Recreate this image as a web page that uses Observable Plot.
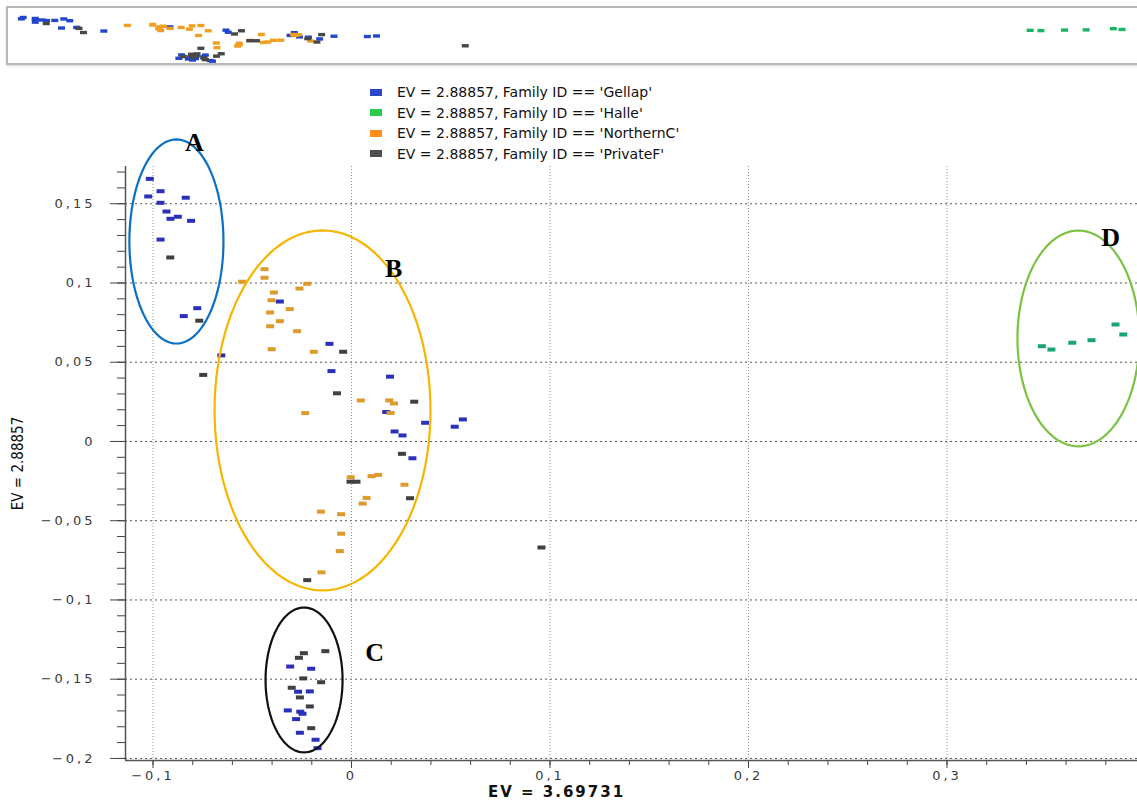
<!DOCTYPE html>
<html>
<head>
<meta charset="utf-8">
<script src="https://cdn.jsdelivr.net/npm/d3@7"></script>
<script src="https://cdn.jsdelivr.net/npm/@observablehq/plot@0.6"></script>
<style>
  html, body { margin: 0; padding: 0; background: #fff; }
  body { width: 1137px; height: 803px; overflow: hidden; position: relative; font-family: "DejaVu Sans", sans-serif; }
  #frame { position: absolute; left: 6px; top: 6px; width: 1150px; height: 55px; border: 2px solid #b8b8b8; border-right: none; box-shadow: 0 1px 2px rgba(0,0,0,0.15); }
  #strip { position: absolute; left: 0; top: 0; }
  #legend { position: absolute; left: 370px; top: 82px; font-size: 14px; letter-spacing: 0px; color: #111; }
  #legend .row { height: 20.6px; line-height: 20.6px; white-space: nowrap; }
  #legend .sw { display: inline-block; width: 12px; height: 7px; margin-right: 15px; vertical-align: middle; position: relative; top: -1px; }
  #main { position: absolute; left: 0; top: 120px; }
  #main g[aria-label="y-axis tick label"], #main g[aria-label="x-axis tick label"] { letter-spacing: 3px; }
</style>
</head>
<body>
<div id="frame"></div>
<div id="strip"></div>
<div id="legend"></div>
<div id="main"></div>
<script>
// ---------- data ----------
const families = ["Gellap", "Halle", "NorthernC", "PrivateF"];
const legendLabels = families.map(f => `EV = 2.88857, Family ID == '${f}'`);

const gellap = [
  [-0.1016, 0.1657], [-0.1024, 0.1546], [-0.0962, 0.1579], [-0.0835, 0.1538],
  [-0.0962, 0.1506], [-0.0932, 0.1451], [-0.0912, 0.1405], [-0.0875, 0.1418],
  [-0.0808, 0.1392], [-0.0962, 0.1274], [-0.0777, 0.0841], [-0.0845, 0.0791],
  [-0.0656, 0.0543], [-0.0361, 0.0883], [-0.0111, 0.0616], [-0.0101, 0.0444],
  [0.0194, 0.0409], [0.0175, 0.0186], [0.0371, 0.0118], [0.0217, 0.0063],
  [0.0257, 0.0038], [0.0561, 0.0139], [0.0520, 0.0093], [0.0307, -0.0106],
  [-0.0309, -0.1420], [-0.0203, -0.1434], [-0.0269, -0.1579], [-0.0210, -0.1577],
  [-0.0321, -0.1697], [-0.0258, -0.1705], [-0.0247, -0.1718], [-0.0279, -0.1752],
  [-0.0260, -0.1838], [-0.0181, -0.1882], [-0.0171, -0.1935]
];
const halle = [
  [0.3478, 0.0601], [0.3526, 0.0580], [0.3631, 0.0623],
  [0.3728, 0.0639], [0.3849, 0.0738], [0.3888, 0.0675]
];
const northernC = [
  [-0.0551, 0.1008], [-0.0438, 0.1087], [-0.0438, 0.1033], [-0.0223, 0.0995],
  [-0.0262, 0.0965], [-0.0391, 0.0940], [-0.0403, 0.0891], [-0.0311, 0.0835],
  [-0.0410, 0.0814], [-0.0361, 0.0759], [-0.0410, 0.0727], [-0.0274, 0.0696],
  [-0.0402, 0.0582], [-0.0190, 0.0566], [-0.0233, 0.0179], [0.0047, 0.0259],
  [0.0190, 0.0259], [0.0214, 0.0240], [0.0197, 0.0180], [-0.0004, -0.0226],
  [0.0101, -0.0219], [0.0134, -0.0211], [0.0267, -0.0273], [0.0076, -0.0356],
  [0.0056, -0.0392], [-0.0154, -0.0443], [-0.0052, -0.0459], [-0.0052, -0.0582],
  [-0.0059, -0.0692], [-0.0151, -0.0826]
];
const privateF = [
  [-0.0913, 0.1161], [-0.0767, 0.0762], [-0.0747, 0.0420], [-0.0042, 0.0566],
  [-0.0073, 0.0304], [0.0316, 0.0251], [0.0254, -0.0078], [-0.0005, -0.0254],
  [0.0025, -0.0254], [0.0295, -0.0358], [-0.0223, -0.0875], [0.0957, -0.0669],
  [-0.0240, -0.1336], [-0.0265, -0.1365], [-0.0132, -0.1323], [-0.0243, -0.1495],
  [-0.0153, -0.1519], [-0.0301, -0.1554], [-0.0260, -0.1615], [-0.0210, -0.1672],
  [-0.0203, -0.1809]
];

const xMajor = [-0.1, 0, 0.1, 0.2, 0.3];
const yMajor = [-0.2, -0.15, -0.1, -0.05, 0, 0.05, 0.1, 0.15];
const xTitle = "EV = 3.69731";
const yTitle = "EV = 2.88857";

// cluster annotations (ellipse centre / radii in data units, label position)
const annotations = [
  { label: "A", cx: -0.0882, cy: 0.1262, rx: 0.0237, ry: 0.0644, lx: -0.0791, ly: 0.1886 },
  { label: "B", cx: -0.0146, cy: 0.0196, rx: 0.0544, ry: 0.1136, lx: 0.0212, ly: 0.1091 },
  { label: "C", cx: -0.0239, cy: -0.1505, rx: 0.0194, ry: 0.0457, lx: 0.0116, ly: -0.1331 },
  { label: "D", cx: 0.3662, cy: 0.0650, rx: 0.0307, ry: 0.0681, lx: 0.3824, ly: 0.1287 }
];

// ---------- styles ----------
const pointColors = ["#2a30b8", "#18a478", "#de9a2a", "#404040"];
const stripColors = ["#2446cc", "#1db466", "#f0a020", "#484848"];
const legendColors = ["#2b48c8", "#2ccc48", "#ff8c1a", "#505050"];
const ellipseColors = ["#0b6fc4", "#f7b500", "#111111", "#7cc242"];

// ---------- build ----------
const series = [gellap, halle, northernC, privateF];
const points = series.flatMap((s, i) => s.map(([x, y]) => ({ x, y, family: families[i] })));

const ellipsePoints = a => d3.range(0, 101).map(i => {
  const t = (i / 100) * 2 * Math.PI;
  return { x: a.cx + a.rx * Math.cos(t), y: a.cy + a.ry * Math.sin(t) };
});

const mainMarker = { draw(ctx) { ctx.rect(-4, -2, 8, 4); } };
const stripMarker = { draw(ctx) { ctx.rect(-3.5, -1.7, 7, 3.4); } };

const locale = d3.formatLocale({ decimal: ",", thousands: ".", grouping: [3], currency: ["", ""], minus: "\u2212" });
const fmt = d => (Math.abs(d) < 1e-9 ? "0" : locale.format("~g")(d));

const xDomain = [-0.11385, 0.39597];
const yDomain = [-0.2013, 0.1735];
const xMinor = d3.range(-0.1, 0.3961, 0.02).map(v => +v.toFixed(3));
const yMinor = d3.range(-0.2, 0.1736, 0.01).map(v => +v.toFixed(3));

// overview strip
const strip = Plot.plot({
  width: 1137, height: 72,
  marginLeft: 9, marginRight: 0, marginTop: 9, marginBottom: 10,
  x: { domain: [-0.1077, 0.3957], axis: null },
  y: { domain: [-0.2042, 0.2314], axis: null },
  color: { domain: families, range: stripColors },
  style: { background: "transparent" },
  marks: [
    Plot.dot(points, { x: "x", y: "y", fill: "family", symbol: stripMarker, stroke: null })
  ]
});
document.getElementById("strip").appendChild(strip);

// legend
const legend = document.getElementById("legend");
families.forEach((f, i) => {
  const row = document.createElement("div");
  row.className = "row";
  const sw = document.createElement("span");
  sw.className = "sw";
  sw.style.background = legendColors[i];
  row.appendChild(sw);
  row.appendChild(document.createTextNode(legendLabels[i]));
  legend.appendChild(row);
});

// main chart
const main = Plot.plot({
  width: 1137, height: 683,
  marginLeft: 125, marginRight: 0, marginTop: 46, marginBottom: 43,
  x: { domain: xDomain },
  y: { domain: yDomain },
  color: { domain: families, range: pointColors },
  style: { background: "transparent", fontFamily: "DejaVu Sans", fontSize: "13px", color: "#3a3a3a", overflow: "visible" },
  marks: [
    Plot.gridY({ ticks: yMajor, stroke: "#3a3a3a", strokeOpacity: 0.85, strokeDasharray: "2,3" }),
    Plot.gridX({ ticks: xMajor, stroke: "#8a8a8a", strokeOpacity: 0.9, strokeDasharray: "1,2" }),
    Plot.axisY({ ticks: yMinor, tickSize: 8, tickFormat: () => "", stroke: "#444", label: null }),
    Plot.axisY({ ticks: yMajor, tickSize: 15, tickPadding: 15, tickFormat: fmt, stroke: "#444", label: null }),
    Plot.axisX({ ticks: xMinor, tickSize: 5, tickFormat: () => "", stroke: "#444", label: null }),
    Plot.axisX({ ticks: xMajor, tickSize: 8, tickPadding: 2, tickFormat: fmt, stroke: "#444", label: null }),
    Plot.ruleX([xDomain[0]], { stroke: "#555", strokeWidth: 1.5 }),
    Plot.ruleY([yDomain[0]], { stroke: "#555", strokeWidth: 1.5 }),
    Plot.dot(points, { x: "x", y: "y", fill: "family", symbol: mainMarker, stroke: null }),
    ...annotations.map((a, i) => Plot.line(ellipsePoints(a), { x: "x", y: "y", stroke: ellipseColors[i], strokeWidth: 2.2 })),
    Plot.text(annotations, { x: "lx", y: "ly", text: "label", fontFamily: "Liberation Serif", fontWeight: "bold", fontSize: 26, fill: "#000", lineAnchor: "middle" }),
    Plot.text([xTitle], { frameAnchor: "bottom", dx: -75, dy: 32, lineAnchor: "middle", textAnchor: "middle", fontWeight: "bold", fontSize: 15, fill: "#111" }),
    Plot.text([yTitle], { frameAnchor: "left", dx: -107, rotate: -90, textAnchor: "middle", lineAnchor: "middle", fontFamily: "DejaVu Sans Condensed, DejaVu Sans", fontSize: 15, fill: "#111" })
  ]
});
document.getElementById("main").appendChild(main);
// wide letter spacing for the x-axis title
main.querySelectorAll("text").forEach(t => { if (t.textContent === xTitle) t.style.letterSpacing = "2px"; });
</script>
</body>
</html>
